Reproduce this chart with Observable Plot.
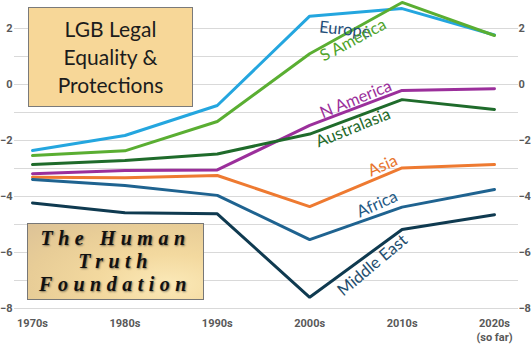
<!DOCTYPE html>
<html>
<head>
<meta charset="utf-8">
<script src="https://cdn.jsdelivr.net/npm/d3@7"></script>
<script src="https://cdn.jsdelivr.net/npm/@observablehq/plot@0.6"></script>
<style>
  html, body { margin: 0; padding: 0; background: #fff; }
  #wrap { position: relative; width: 531px; height: 347px; overflow: hidden; }
  #title {
    position: absolute; left: 28px; top: 7px; width: 163px; height: 98px;
    background: #f7d798; border: 1px solid #7a7a7a;
    font-family: Lato, "Open Sans", sans-serif; font-size: 21px; line-height: 28px;
    color: #1c1c1c; text-align: center; display: flex; align-items: center; justify-content: center;
  }
  #logo {
    position: absolute; left: 27px; top: 223px; width: 175px; height: 75px;
    border: 1px solid #777;
    background: radial-gradient(ellipse at 80% 80%, #fbe9b8 0%, #f3d99f 35%, #e8cd97 70%, #dcc297 100%);
    font-family: "Liberation Serif", "DejaVu Serif", serif; font-weight: bold; font-style: italic;
    font-size: 20px; line-height: 23px; letter-spacing: 5.5px; color: #111;
    text-align: center; display: flex; align-items: center; justify-content: center;
    text-shadow: 1px 1px 2px rgba(0,0,0,0.45);
  }
</style>
</head>
<body>
<div id="wrap"></div>
<script>
const decades = ["1970s", "1980s", "1990s", "2000s", "2010s", "2020s\n(so far)"];
const europe      = [-2.36, -1.82, -0.75,  2.44,  2.71,  1.77];
const sAmerica    = [-2.54, -2.37, -1.32,  1.10,  2.93,  1.75];
const nAmerica    = [-3.19, -3.07, -3.05, -1.46, -0.21, -0.15];
const australasia = [-2.86, -2.71, -2.48, -1.77, -0.54, -0.89];
const asia        = [-3.31, -3.33, -3.25, -4.36, -2.98, -2.86];
const africa      = [-3.39, -3.61, -3.96, -5.54, -4.38, -3.75];
const middleEast  = [-4.23, -4.58, -4.62, -7.60, -5.18, -4.65];

const regions = ["Europe", "S America", "N America", "Australasia", "Asia", "Africa", "Middle East"];
const values = [europe, sAmerica, nAmerica, australasia, asia, africa, middleEast];
const lineColors  = ["#24a6df", "#5aae32", "#9b2f9b", "#1f6b2b", "#ee7a31", "#1f6390", "#0f3a50"];
const labelColors = ["#1f4e79", "#4ea32a", "#9b2f9b", "#1f6b2b", "#e8742c", "#1f5a85", "#1f4e6e"];
// label anchor (decade index, value) and rotation
const labelX   = [3.38, 3.47, 3.50, 3.47, 3.79, 3.73, 3.68];
const labelY   = [1.96, 1.58, -0.53, -1.55, -2.90, -4.28, -6.46];
const labelRot = [6, -28, -22, -22, -24, -24, -40];

const rows = [];
regions.forEach((r, k) => values[k].forEach((v, i) => rows.push({region: r, i, v})));
const labels = regions.map((r, k) => ({region: r, x: labelX[k], y: labelY[k], rot: labelRot[k], c: labelColors[k]}));

const axisFont = {fontFamily: "Roboto, 'Liberation Sans', sans-serif", fontWeight: "bold", fontSize: 11, fill: "#595959"};

const chart = Plot.plot({
  width: 531,
  height: 347,
  marginLeft: 14,
  marginRight: 13,
  marginTop: 0,
  marginBottom: 39,
  style: {background: "transparent", overflow: "visible"},
  x: {domain: [-0.195, 5.26], axis: null},
  y: {domain: [-8, 3], axis: null},
  color: {domain: regions, range: lineColors},
  marks: [
    Plot.gridY({ticks: d3.range(-8, 3, 1), stroke: "#d9d9d9", strokeOpacity: 1, strokeWidth: 1}),
    Plot.axisY({anchor: "left", ticks: [-8, -6, -4, -2, 0, 2], tickSize: 0, tickPadding: 2, ...axisFont}),
    Plot.axisY({anchor: "right", ticks: [-8, -6, -4, -2, 0, 2], tickSize: 0, tickPadding: 0, ...axisFont}),
    Plot.axisX({ticks: d3.range(decades.length), tickFormat: i => decades[i], tickSize: 0, tickPadding: 9, lineHeight: 1.25, ...axisFont}),
    Plot.line(rows, {x: "i", y: "v", z: "region", stroke: "region", strokeWidth: 3, strokeLinejoin: "miter", curve: "linear"}),
    Plot.text(labels, {x: "x", y: "y", text: "region", rotate: "rot", fill: "c",
      fontFamily: "Lato, 'Open Sans', sans-serif", fontSize: 16.5})
  ]
});

const wrap = document.getElementById("wrap");
wrap.appendChild(chart);
const title = document.createElement("div");
title.id = "title";
title.innerHTML = "LGB Legal<br>Equality &amp;<br>Protections";
wrap.appendChild(title);
const logo = document.createElement("div");
logo.id = "logo";
logo.innerHTML = "The Human<br>Truth<br>Foundation";
wrap.appendChild(logo);
</script>
</body>
</html>
